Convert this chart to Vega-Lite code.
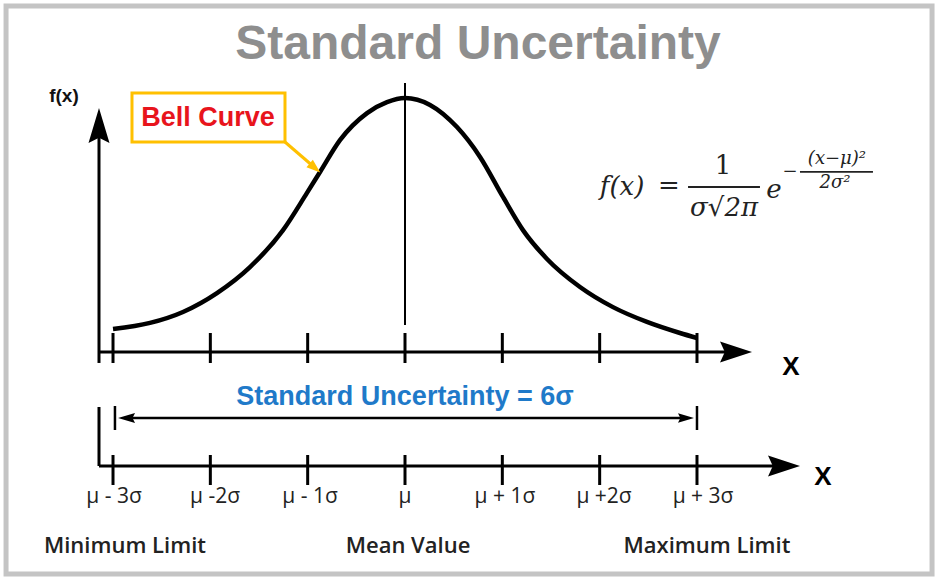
{
  "$schema": "https://vega.github.io/schema/vega-lite/v6.json",
  "width": 938,
  "height": 580,
  "autosize": {"type": "fit", "contains": "padding"},
  "padding": 0,
  "background": "white",
  "config": {"view": {"stroke": null}},
  "datasets": {
    "border": [{"x": -4.099, "y": 1.357, "x2": 5.415, "y2": -0.8706}],
    "axes": [
      {"x": -3.144, "y": -0.043, "x2": -3.144, "y2": 0.86},
      {"x": -3.144, "y": 0, "x2": 3.30, "y2": 0},
      {"x": -3, "y": 0.0745, "x2": -3, "y2": -0.0431},
      {"x": -2, "y": 0.0745, "x2": -2, "y2": -0.0431},
      {"x": -1, "y": 0.0745, "x2": -1, "y2": -0.0431},
      {"x": 0, "y": 0.0745, "x2": 0, "y2": -0.0431},
      {"x": 1, "y": 0.0745, "x2": 1, "y2": -0.0431},
      {"x": 2, "y": 0.0745, "x2": 2, "y2": -0.0431},
      {"x": 3, "y": 0.0745, "x2": 3, "y2": -0.0431},
      {"x": -3.144, "y": -0.2157, "x2": -3.144, "y2": -0.4471},
      {"x": -3.144, "y": -0.4471, "x2": 3.80, "y2": -0.4471},
      {"x": -3, "y": -0.4039, "x2": -3, "y2": -0.5216},
      {"x": -2, "y": -0.4039, "x2": -2, "y2": -0.5216},
      {"x": -1, "y": -0.4039, "x2": -1, "y2": -0.5216},
      {"x": 0, "y": -0.4039, "x2": 0, "y2": -0.5216},
      {"x": 1, "y": -0.4039, "x2": 1, "y2": -0.5216},
      {"x": 2, "y": -0.4039, "x2": 2, "y2": -0.5216},
      {"x": 3, "y": -0.4039, "x2": 3, "y2": -0.5216}
    ],
    "meanline": [{"x": 0, "y": 1.0549, "x2": 0, "y2": 0.1059}],
    "dim": [
      {"x": -2.88, "y": -0.2588, "x2": 2.88, "y2": -0.2588},
      {"x": -2.98, "y": -0.2118, "x2": -2.98, "y2": -0.3059},
      {"x": 3.0, "y": -0.2118, "x2": 3.0, "y2": -0.3059}
    ],
    "fracbars": [
      {"x": 2.908, "y": 0.647, "x2": 3.647, "y2": 0.647},
      {"x": 4.058, "y": 0.706, "x2": 4.808, "y2": 0.706}
    ],
    "callout": [{"x": -1.233, "y": 0.8235, "x2": -0.935, "y2": 0.7255}],
    "box": [{"x": -2.805, "y": 1.0157, "x2": -1.233, "y2": 0.8235}],
    "curve": [
      {"x": -3.0, "y": 0.09},
      {"x": -2.62, "y": 0.114},
      {"x": -2.281, "y": 0.157},
      {"x": -1.932, "y": 0.231},
      {"x": -1.593, "y": 0.333},
      {"x": -1.253, "y": 0.478},
      {"x": -1.007, "y": 0.624},
      {"x": -0.873, "y": 0.706},
      {"x": -0.668, "y": 0.831},
      {"x": -0.39, "y": 0.937},
      {"x": -0.185, "y": 0.98},
      {"x": 0, "y": 0.996},
      {"x": 0.257, "y": 0.969},
      {"x": 0.534, "y": 0.882},
      {"x": 0.771, "y": 0.765},
      {"x": 1.007, "y": 0.608},
      {"x": 1.212, "y": 0.478},
      {"x": 1.459, "y": 0.365},
      {"x": 1.798, "y": 0.255},
      {"x": 2.137, "y": 0.176},
      {"x": 2.486, "y": 0.118},
      {"x": 2.825, "y": 0.0745},
      {"x": 3.0, "y": 0.055}
    ],
    "arrowUp": [{"x": -3.144, "y": 0.888}],
    "arrowRightBig": [{"x": 3.401, "y": 0}, {"x": 3.894, "y": -0.4471}],
    "arrowLeftSmall": [{"x": -2.861, "y": -0.2588}],
    "arrowRightSmall": [{"x": 2.887, "y": -0.2588}],
    "arrowOrange": [{"x": -0.925, "y": 0.7216}],
    "title": [{"x": 0.75, "y": 1.204, "t": "Standard Uncertainty"}],
    "fxLabel": [{"x": -3.504, "y": 1.004, "t": "f(x)"}],
    "bell": [{"x": -2.024, "y": 0.9176, "t": "Bell Curve"}],
    "formulaItalic": [
      {"x": 2.23, "y": 0.647, "t": "f(x)"},
      {"x": 3.791, "y": 0.635, "t": "e"},
      {"x": 3.278, "y": 0.5647, "t": "σ√2π"}
    ],
    "formulaUpright": [
      {"x": 2.712, "y": 0.651, "t": "="},
      {"x": 3.267, "y": 0.729, "t": "1"}
    ],
    "formulaSmall": [
      {"x": 3.956, "y": 0.706, "t": "−"},
      {"x": 4.438, "y": 0.757, "t": "(x−μ)²"},
      {"x": 4.418, "y": 0.663, "t": "2σ²"}
    ],
    "xLabels": [
      {"x": 3.966, "y": -0.0588, "t": "X"},
      {"x": 4.295, "y": -0.49, "t": "X"}
    ],
    "blue": [{"x": 0, "y": -0.1765, "t": "Standard Uncertainty = 6σ"}],
    "tickLabels": [
      {"x": -2.99, "y": -0.5686, "t": "μ - 3σ"},
      {"x": -1.952, "y": -0.5686, "t": "μ -2σ"},
      {"x": -0.976, "y": -0.5686, "t": "μ - 1σ"},
      {"x": 0, "y": -0.5686, "t": "μ"},
      {"x": 1.027, "y": -0.5686, "t": "μ + 1σ"},
      {"x": 2.045, "y": -0.5686, "t": "μ +2σ"},
      {"x": 3.062, "y": -0.5686, "t": "μ + 3σ"}
    ],
    "bottomLabels": [
      {"x": -2.877, "y": -0.761, "t": "Minimum Limit"},
      {"x": 0.031, "y": -0.761, "t": "Mean Value"},
      {"x": 3.103, "y": -0.761, "t": "Maximum Limit"}
    ]
  },
  "encoding": {
    "x": {"field": "x", "type": "quantitative", "scale": {"domain": [-4.1611, 5.4762], "nice": false, "zero": false}, "axis": null},
    "y": {"field": "y", "type": "quantitative", "scale": {"domain": [-0.8941, 1.3804], "nice": false, "zero": false}, "axis": null}
  },
  "layer": [
    {"data": {"name": "border"}, "mark": {"type": "rect", "fill": "transparent", "stroke": "#c4c4c4", "strokeWidth": 5},
     "encoding": {"x2": {"field": "x2"}, "y2": {"field": "y2"}}},
    {"data": {"name": "axes"}, "mark": {"type": "rule", "color": "#000000", "strokeWidth": 3},
     "encoding": {"x2": {"field": "x2"}, "y2": {"field": "y2"}}},
    {"data": {"name": "meanline"}, "mark": {"type": "rule", "color": "#000000", "strokeWidth": 2},
     "encoding": {"x2": {"field": "x2"}, "y2": {"field": "y2"}}},
    {"data": {"name": "dim"}, "mark": {"type": "rule", "color": "#000000", "strokeWidth": 2.5},
     "encoding": {"x2": {"field": "x2"}, "y2": {"field": "y2"}}},
    {"data": {"name": "fracbars"}, "mark": {"type": "rule", "color": "#222222", "strokeWidth": 1.8},
     "encoding": {"x2": {"field": "x2"}, "y2": {"field": "y2"}}},
    {"data": {"name": "callout"}, "mark": {"type": "rule", "color": "#ffc000", "strokeWidth": 3},
     "encoding": {"x2": {"field": "x2"}, "y2": {"field": "y2"}}},
    {"data": {"name": "box"}, "mark": {"type": "rect", "fill": "white", "stroke": "#ffc000", "strokeWidth": 3},
     "encoding": {"x2": {"field": "x2"}, "y2": {"field": "y2"}}},
    {"data": {"name": "curve"}, "mark": {"type": "line", "color": "#000000", "strokeWidth": 4.5, "interpolate": "monotone"}},
    {"data": {"name": "arrowUp"}, "mark": {"type": "point", "shape": "M1,0 L-1,0.6 L-0.7,0 L-1,-0.6 Z", "angle": -90, "size": 1225, "filled": true, "color": "#000000", "opacity": 1}},
    {"data": {"name": "arrowRightBig"}, "mark": {"type": "point", "shape": "M1,0 L-1,0.65 L-0.7,0 L-1,-0.65 Z", "angle": 0, "size": 1024, "filled": true, "color": "#000000", "opacity": 1}},
    {"data": {"name": "arrowLeftSmall"}, "mark": {"type": "point", "shape": "M1,0 L-1,0.6 L-0.7,0 L-1,-0.6 Z", "angle": 180, "size": 289, "filled": true, "color": "#000000", "opacity": 1}},
    {"data": {"name": "arrowRightSmall"}, "mark": {"type": "point", "shape": "M1,0 L-1,0.6 L-0.7,0 L-1,-0.6 Z", "angle": 0, "size": 256, "filled": true, "color": "#000000", "opacity": 1}},
    {"data": {"name": "arrowOrange"}, "mark": {"type": "point", "shape": "M1,0 L-1,0.7 L-1,-0.7 Z", "angle": 40.6, "size": 196, "filled": true, "color": "#ffc000", "opacity": 1}},
    {"data": {"name": "title"}, "mark": {"type": "text", "font": "Liberation Sans", "fontWeight": "bold", "fontSize": 48, "color": "#8e8e8e", "align": "center", "baseline": "middle"},
     "encoding": {"text": {"field": "t"}}},
    {"data": {"name": "fxLabel"}, "mark": {"type": "text", "font": "Liberation Sans", "fontWeight": "bold", "fontSize": 19, "color": "#111111", "align": "center", "baseline": "middle"},
     "encoding": {"text": {"field": "t"}}},
    {"data": {"name": "bell"}, "mark": {"type": "text", "font": "Liberation Sans", "fontWeight": "bold", "fontSize": 27, "color": "#e8141c", "align": "center", "baseline": "middle"},
     "encoding": {"text": {"field": "t"}}},
    {"data": {"name": "formulaItalic"}, "mark": {"type": "text", "font": "DejaVu Serif", "fontStyle": "italic", "fontSize": 26, "color": "#222222", "align": "center", "baseline": "middle"},
     "encoding": {"text": {"field": "t"}}},
    {"data": {"name": "formulaUpright"}, "mark": {"type": "text", "font": "DejaVu Serif", "fontSize": 26, "color": "#222222", "align": "center", "baseline": "middle"},
     "encoding": {"text": {"field": "t"}}},
    {"data": {"name": "formulaSmall"}, "mark": {"type": "text", "font": "DejaVu Serif", "fontStyle": "italic", "fontSize": 18, "color": "#222222", "align": "center", "baseline": "middle"},
     "encoding": {"text": {"field": "t"}}},
    {"data": {"name": "xLabels"}, "mark": {"type": "text", "font": "Liberation Sans", "fontWeight": "bold", "fontSize": 26, "color": "#000000", "align": "center", "baseline": "middle"},
     "encoding": {"text": {"field": "t"}}},
    {"data": {"name": "blue"}, "mark": {"type": "text", "font": "Liberation Sans", "fontWeight": "bold", "fontSize": 27, "color": "#1f7ac9", "align": "center", "baseline": "middle"},
     "encoding": {"text": {"field": "t"}}},
    {"data": {"name": "tickLabels"}, "mark": {"type": "text", "font": "Open Sans", "fontSize": 21, "color": "#222222", "align": "center", "baseline": "middle"},
     "encoding": {"text": {"field": "t"}}},
    {"data": {"name": "bottomLabels"}, "mark": {"type": "text", "font": "Open Sans", "fontWeight": 600, "fontSize": 22, "color": "#222222", "align": "center", "baseline": "middle"},
     "encoding": {"text": {"field": "t"}}}
  ]
}
